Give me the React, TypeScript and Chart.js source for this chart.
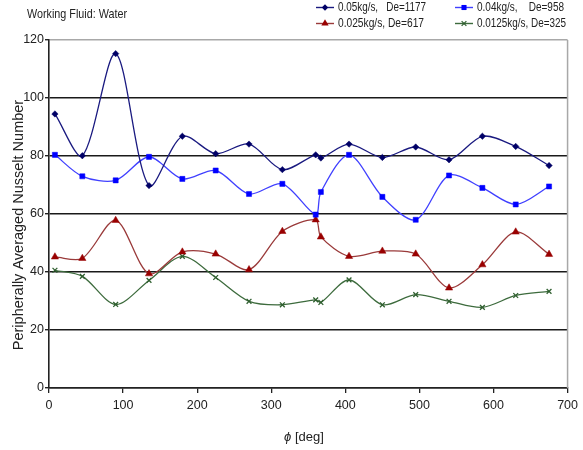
import React, { useEffect, useRef } from 'react';
import { Chart, registerables } from 'chart.js';

Chart.register(...registerables);

const phi = [8, 45, 90, 135, 180, 225, 270, 315, 360, 367, 405, 450, 495, 540, 585, 630, 675];
const nu005 = [94.5, 80.1, 115.3, 69.8, 86.8, 80.8, 84.1, 75.3, 80.4, 79.3, 84.1, 79.5, 83.1, 78.7, 86.8, 83.3, 76.7];
const nu004 = [80.4, 73.0, 71.6, 79.7, 72.1, 75.0, 66.9, 70.4, 59.8, 67.6, 80.4, 65.9, 58.0, 73.3, 69.0, 63.3, 69.5];
const nu0025 = [45.2, 44.7, 57.8, 39.4, 46.9, 46.2, 40.8, 54.0, 58.0, 52.1, 45.4, 47.2, 46.2, 34.5, 42.5, 53.8, 46.1];
const nu00125 = [40.6, 38.5, 28.8, 37.1, 45.4, 38.1, 29.9, 28.7, 30.4, 29.5, 37.3, 28.7, 32.2, 29.9, 27.8, 31.9, 33.3];

const seriesLabels = ['0.05kg/s,   De=1177', '0.04kg/s,    De=958', '0.025kg/s, De=617', '0.0125kg/s, De=325'];
const chartTitle = 'Working Fluid: Water';
const yTitle = 'Peripherally Averaged Nusselt Number';
const xTitleSymbol = 'ϕ';
const xTitleUnit = ' [deg]';

const FONT = '"Liberation Sans Narrow", "Liberation Sans", Arial, sans-serif';

type Style = { line: string; point: string; shape: string; radius: number };
const styles: Style[] = [
  { line: '#1a1a80', point: '#000066', shape: 'rectRot', radius: 3.2 },
  { line: '#4040ff', point: '#0000ff', shape: 'rect', radius: 3.6 },
  { line: '#9a3a3a', point: '#990000', shape: 'triangle', radius: 4.2 },
  { line: '#3d6b3d', point: '#2f5f2f', shape: 'crossRot', radius: 3.4 },
];

function drawMarker(ctx: CanvasRenderingContext2D, shape: string, x: number, y: number, r: number, color: string) {
  ctx.save();
  ctx.fillStyle = color;
  ctx.strokeStyle = color;
  ctx.lineWidth = 1.2;
  ctx.beginPath();
  if (shape === 'rectRot') {
    ctx.moveTo(x, y - r); ctx.lineTo(x + r, y); ctx.lineTo(x, y + r); ctx.lineTo(x - r, y); ctx.closePath(); ctx.fill();
  } else if (shape === 'rect') {
    const s = r * Math.SQRT1_2;
    ctx.rect(x - s, y - s, 2 * s, 2 * s); ctx.fill();
  } else if (shape === 'triangle') {
    ctx.moveTo(x, y - r); ctx.lineTo(x + r * 0.866, y + r * 0.5); ctx.lineTo(x - r * 0.866, y + r * 0.5); ctx.closePath(); ctx.fill();
  } else {
    const d = r * 0.7;
    ctx.moveTo(x - d, y - d); ctx.lineTo(x + d, y + d); ctx.moveTo(x + d, y - d); ctx.lineTo(x - d, y + d); ctx.stroke();
  }
  ctx.restore();
}

const decor = {
  id: 'decor',
  beforeDatasetsDraw(chart: any) {
    const { ctx, chartArea } = chart;
    ctx.save();
    ctx.strokeStyle = '#a8a8a8';
    ctx.lineWidth = 1.5;
    ctx.beginPath();
    ctx.moveTo(chartArea.right, chartArea.top);
    ctx.lineTo(chartArea.right, chartArea.bottom);
    ctx.stroke();
    ctx.restore();
  },
  afterDraw(chart: any) {
    const { ctx } = chart;
    ctx.save();
    ctx.fillStyle = '#222';
    ctx.textBaseline = 'middle';
    ctx.textAlign = 'left';
    ctx.font = `13px ${FONT}`;
    ctx.fillText(chartTitle, 27, 14, 100);

    // legend
    ctx.font = `12.5px ${FONT}`;
    const colX = [316, 455];
    const rowY = [7.5, 23.5];
    const widths = [88, 87, 86, 89];
    chart.data.datasets.forEach((ds: any, i: number) => {
      const st = styles[i];
      const x0 = colX[i % 2];
      const y = rowY[Math.floor(i / 2)];
      ctx.strokeStyle = st.line;
      ctx.lineWidth = 1.4;
      ctx.beginPath();
      ctx.moveTo(x0, y);
      ctx.lineTo(x0 + 18, y);
      ctx.stroke();
      drawMarker(ctx, st.shape, x0 + 9, y, st.radius, st.point);
      ctx.fillStyle = '#222';
      ctx.fillText(ds.label, x0 + 22, y, widths[i]);
    });

    // y title
    ctx.save();
    ctx.translate(18.5, 225);
    ctx.rotate(-Math.PI / 2);
    ctx.textAlign = 'center';
    ctx.font = `14.5px ${FONT}`;
    ctx.fillText(yTitle, 0, 0, 264);
    ctx.restore();

    // x title
    ctx.font = `italic 13px ${FONT}`;
    const w1 = ctx.measureText(xTitleSymbol).width;
    ctx.font = `13px ${FONT}`;
    const w2 = ctx.measureText(xTitleUnit).width;
    const cx = 304;
    const start = cx - (w1 + w2) / 2;
    ctx.textAlign = 'left';
    ctx.font = `italic 13px ${FONT}`;
    ctx.fillText(xTitleSymbol, start, 437);
    ctx.font = `13px ${FONT}`;
    ctx.fillText(xTitleUnit, start + w1, 437);
    ctx.restore();
  },
};

export default function App() {
  const ref = useRef<HTMLCanvasElement>(null);
  useEffect(() => {
    if (!ref.current) return;
    const series = [nu005, nu004, nu0025, nu00125];
    const datasets = series.map((ys, i) => ({
      label: seriesLabels[i],
      data: phi.map((x, j) => ({ x, y: ys[j] })),
      borderColor: styles[i].line,
      backgroundColor: styles[i].point,
      pointBackgroundColor: styles[i].point,
      pointBorderColor: styles[i].point,
      pointStyle: styles[i].shape as any,
      pointRadius: styles[i].radius,
      pointBorderWidth: styles[i].shape === 'crossRot' ? 1.3 : 0.5,
      borderWidth: 1.3,
      tension: 0.3,
      fill: false,
    }));
    const chart = new Chart(ref.current, {
      type: 'line',
      data: { datasets },
      options: {
        animation: false,
        responsive: true,
        maintainAspectRatio: false,
        layout: { padding: { top: 40, right: 9, left: 0, bottom: 0 } },
        plugins: {
          legend: { display: false },
          title: { display: false },
          tooltip: { enabled: false },
        },
        scales: {
          x: {
            type: 'linear',
            min: 0,
            max: 700,
            afterFit: (s: any) => { s.height = 62; },
            ticks: {
              stepSize: 100,
              autoSkip: false,
              maxRotation: 0,
              padding: 5,
              color: '#222',
              font: { family: FONT, size: 12.5 },
            },
            grid: { drawOnChartArea: false, drawTicks: true, tickLength: 5, color: '#222', lineWidth: 1.3 },
            border: { display: true, color: '#222', width: 1.6 },
          },
          y: {
            min: 0,
            max: 120,
            afterFit: (s: any) => { s.width = 49; },
            ticks: {
              stepSize: 20,
              padding: 1,
              color: '#222',
              font: { family: FONT, size: 12.5 },
            },
            grid: {
              color: (c: any) => (c.tick && c.tick.value === 120 ? '#a8a8a8' : '#1a1a1a'),
              tickColor: '#222',
              lineWidth: 1.4,
              tickLength: 4,
            },
            border: { display: true, color: '#222', width: 1.6 },
          },
        },
      },
      plugins: [decor],
    });
    return () => chart.destroy();
  }, []);
  return (
    <div style={{ position: 'absolute', left: 0, top: 0, width: 583, height: 450, background: '#fff' }}>
      <canvas ref={ref} />
    </div>
  );
}
